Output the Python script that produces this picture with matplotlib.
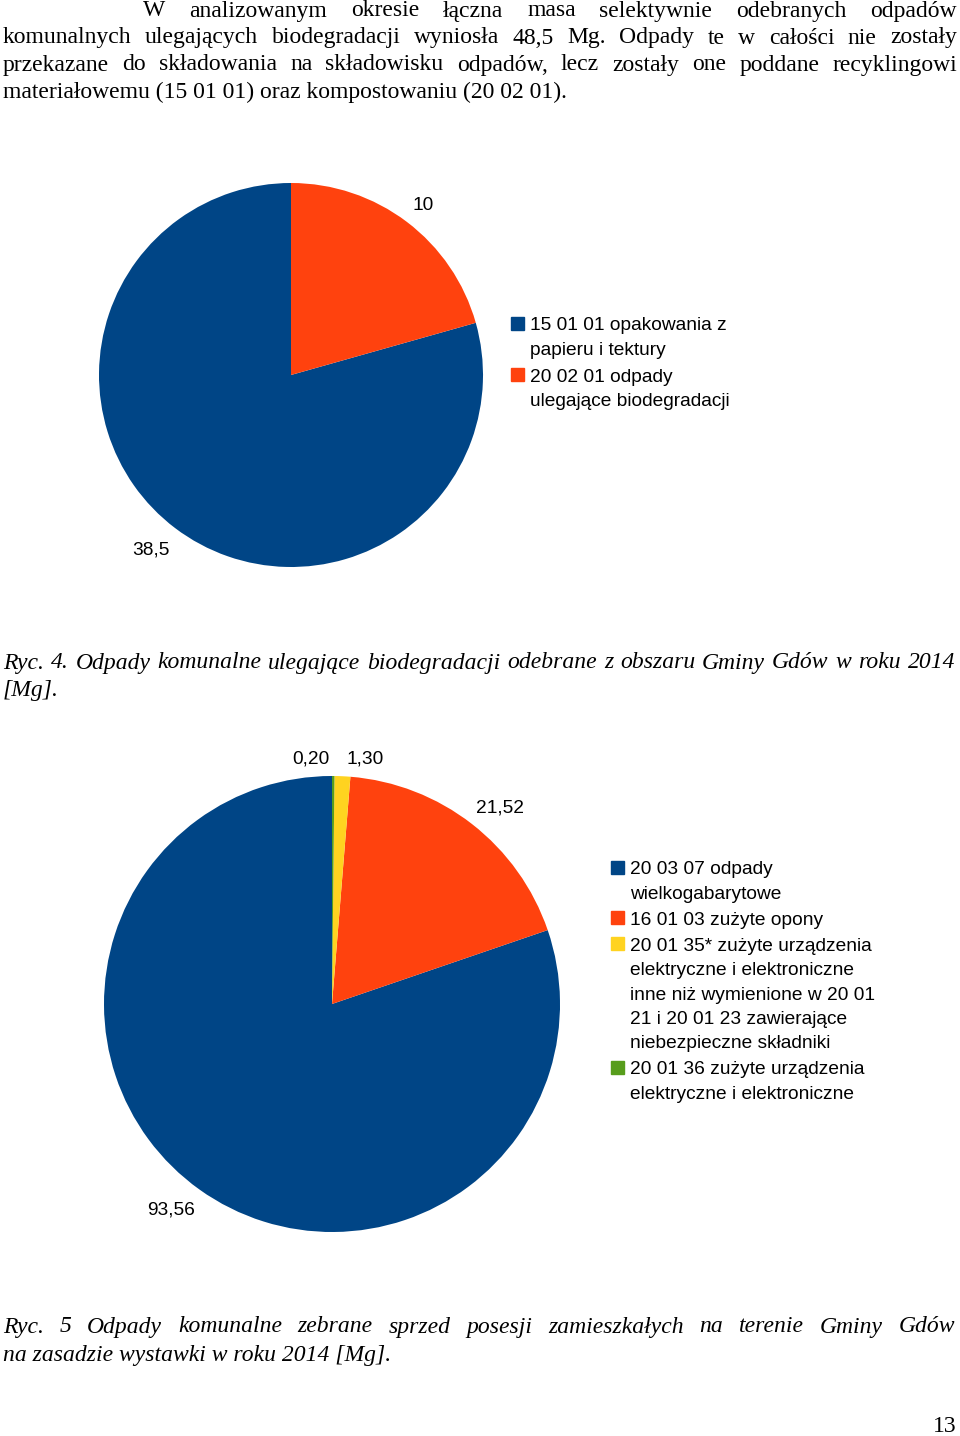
import matplotlib
matplotlib.use("Agg")
import matplotlib.pyplot as plt
from matplotlib.patches import Rectangle

W, H = 960, 1436

# ---------------- data ----------------
body_lines = [
    "W analizowanym okresie łączna masa selektywnie odebranych odpadów",
    "komunalnych ulegających biodegradacji wyniosła 48,5 Mg. Odpady te w całości nie zostały",
    "przekazane do składowania na składowisku odpadów, lecz zostały one poddane recyklingowi",
    "materiałowemu (15 01 01) oraz kompostowaniu (20 02 01).",
]
pie1_values = [38.5, 10]
pie1_labels = ["38,5", "10"]
pie1_legend = [["15 01 01 opakowania z", "papieru i tektury"],
               ["20 02 01 odpady", "ulegające biodegradacji"]]
caption1 = ["Ryc. 4. Odpady komunalne ulegające biodegradacji odebrane z obszaru Gminy Gdów w roku 2014",
            "[Mg]."]

pie2_values = [93.56, 21.52, 1.30, 0.20]
pie2_labels = ["93,56", "21,52", "1,30", "0,20"]
pie2_legend = [["20 03 07 odpady", "wielkogabarytowe"],
               ["16 01 03 zużyte opony"],
               ["20 01 35* zużyte urządzenia", "elektryczne i elektroniczne",
                "inne niż wymienione w 20 01", "21 i 20 01 23 zawierające",
                "niebezpieczne składniki"],
               ["20 01 36 zużyte urządzenia", "elektryczne i elektroniczne"]]
caption2 = ["Ryc. 5 Odpady komunalne zebrane sprzed posesji zamieszkałych na terenie Gminy Gdów",
            "na zasadzie wystawki w roku 2014 [Mg]."]
page_number = "13"

colors = ["#004586", "#ff420e", "#ffd320", "#579d1c"]

# ---------------- figure ----------------
fig = plt.figure(figsize=(W / 100, H / 100), dpi=100)
fig.patch.set_facecolor("white")
renderer = fig.canvas.get_renderer()

SERIF = "Liberation Serif"
SANS = "Liberation Sans"
TXT = 17
LEG = 13.8


def fx(x):
    return x / W


def fy(y):
    return 1 - y / H


def put_line(text, y, x0, x1=None, size=TXT, style="normal", family=SERIF, justify=False):
    words = text.split()
    if not justify or len(words) < 2:
        fig.text(fx(x0), fy(y), text, fontsize=size, style=style, family=family,
                 va="center", ha="left")
        return
    objs = []
    widths = []
    for w in words:
        t = fig.text(0, 0, w, fontsize=size, style=style, family=family, va="center", ha="left")
        bb = t.get_window_extent(renderer)
        objs.append(t)
        widths.append(bb.width)
    gap = (x1 - x0 - sum(widths)) / (len(words) - 1)
    x = x0
    for t, wd in zip(objs, widths):
        t.set_position((fx(x), fy(y)))
        x += wd + gap


# body paragraph
body_y = [11, 38, 65, 92]
put_line(body_lines[0], body_y[0], 143, 957, justify=True)
put_line(body_lines[1], body_y[1], 3, 957, justify=True)
put_line(body_lines[2], body_y[2], 3, 957, justify=True)
put_line(body_lines[3], body_y[3], 3)


def draw_pie(values, labels, cx, cy, r, label_pos=None):
    ax = fig.add_axes([fx(cx - r), fy(cy + r), 2 * r / W, 2 * r / H])
    wedges, texts = ax.pie(values, colors=colors[:len(values)], startangle=90,
                           counterclock=True, labels=labels, labeldistance=1.12,
                           radius=1.0,
                           textprops=dict(fontsize=LEG, family=SANS, color="#000000"),
                           wedgeprops=dict(linewidth=0))
    for t in texts:
        t.set_ha("center")
        t.set_va("center")
    if label_pos:
        for i, (px, py) in label_pos.items():
            texts[i].set_position(((px - cx) / r, (cy - py) / r))
    ax.set_xlim(-1, 1)
    ax.set_ylim(-1, 1)
    ax.set_aspect("equal")
    ax.axis("off")
    return ax


def draw_legend(items, x_sq, y_first, line_h, gap_extra=0):
    y = y_first
    for i, lines in enumerate(items):
        fig.patches.append(Rectangle((fx(x_sq), fy(y + 5)), 13 / W, 13 / H,
                                     transform=fig.transFigure, color=colors[i], figure=fig))
        for ln in lines:
            fig.text(fx(x_sq + 19), fy(y + 1), ln, fontsize=LEG, family=SANS,
                     va="center", ha="left")
            y += line_h
        y += gap_extra


# pie 1
draw_pie(pie1_values, pie1_labels, 291, 375, 192, label_pos={0: (151, 550), 1: (423, 206)})
draw_legend(pie1_legend, 511, 325, 24.5, gap_extra=2)

# caption 1
put_line(caption1[0], 663, 3, 955, style="italic", justify=True)
put_line(caption1[1], 690, 3, style="italic")

# pie 2
draw_pie(pie2_values, pie2_labels, 332, 1004, 228,
         label_pos={0: (171, 1210), 1: (500, 808), 2: (365, 759), 3: (311, 759)})
draw_legend(pie2_legend, 611, 869, 24.4, gap_extra=1.5)

# caption 2
put_line(caption2[0], 1327, 3, 955, style="italic", justify=True)
put_line(caption2[1], 1355, 3, style="italic")

# page number
fig.text(fx(957), fy(1426), page_number, fontsize=TXT, family=SERIF, ha="right", va="center")

fig.savefig("out.png", dpi=100, facecolor="white")
